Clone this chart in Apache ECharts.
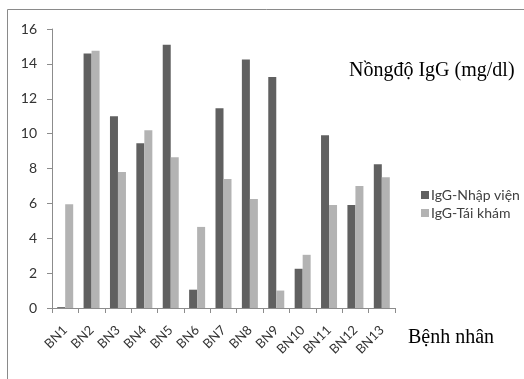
<!DOCTYPE html>
<html>
<head>
<meta charset="utf-8">
<script src="https://cdn.jsdelivr.net/npm/echarts@6/dist/echarts.min.js"></script>
<style>
  html, body { margin: 0; padding: 0; background: #fff; }
  #chart { width: 524px; height: 379px; }
</style>
</head>
<body>
<div id="chart"></div>
<script>
// Patients and IgG concentrations (mg/dl) at admission and at follow-up
const patients = ['BN1', 'BN2', 'BN3', 'BN4', 'BN5', 'BN6', 'BN7', 'BN8', 'BN9', 'BN10', 'BN11', 'BN12', 'BN13'];
const iggAdmission = [0.05, 14.6, 11.0, 9.45, 15.1, 1.05, 11.45, 14.25, 13.25, 2.25, 9.9, 5.9, 8.25];
const iggFollowUp = [5.95, 14.75, 7.8, 10.2, 8.65, 4.65, 7.4, 6.25, 1.0, 3.05, 5.9, 7.0, 7.5];
const seriesNames = ['IgG-Nhập viện', 'IgG-Tái khám'];
const yTicks = { min: 0, max: 16, interval: 2 };

const chart = echarts.init(document.getElementById('chart'), null, { renderer: 'canvas' });

const labelFont = 'Lato, "Open Sans", sans-serif';
const serifFont = '"Liberation Serif", "Times New Roman", serif';
const axisColor = '#8c8c8c';

chart.setOption({
  animation: false,
  backgroundColor: '#fff',
  graphic: [
    {
      type: 'rect',
      shape: { x: 7.5, y: 9.5, width: 540, height: 400 },
      style: { fill: 'none', stroke: '#8a8a8a', lineWidth: 1 },
      silent: true
    },
    {
      type: 'text',
      left: 349, top: 61,
      style: { text: 'Nồngđộ IgG (mg/dl)', font: '20px ' + serifFont, fill: '#000' }
    },
    {
      type: 'text',
      left: 408, top: 328,
      style: { text: 'Bệnh nhân', font: '20px ' + serifFont, fill: '#000' }
    }
  ],
  legend: {
    orient: 'vertical',
    left: 416,
    top: 183,
    itemWidth: 8,
    itemHeight: 8,
    itemGap: 4,
    icon: 'rect',
    data: seriesNames,
    textStyle: { fontFamily: labelFont, fontSize: 14, color: '#404040', padding: [0, 0, 0, -3] }
  },
  grid: { left: 52, right: 129, top: 29, bottom: 71, containLabel: false },
  xAxis: {
    type: 'category',
    data: patients,
    axisLine: { lineStyle: { color: axisColor, width: 1 } },
    axisTick: { show: true, length: 5, lineStyle: { color: axisColor } },
    axisLabel: { rotate: 45, margin: 20, interval: 0, fontFamily: labelFont, fontSize: 13, color: '#333' },
    splitLine: { show: false }
  },
  yAxis: {
    type: 'value',
    min: yTicks.min,
    max: yTicks.max,
    interval: yTicks.interval,
    axisLine: { show: true, lineStyle: { color: axisColor, width: 1 } },
    axisTick: { show: true, length: 5, lineStyle: { color: axisColor } },
    axisLabel: { margin: 15, fontFamily: labelFont, fontSize: 14, color: '#333' },
    splitLine: { show: false }
  },
  series: [
    {
      name: seriesNames[0],
      type: 'bar',
      data: iggAdmission,
      barWidth: 8,
      barGap: '0%',
      itemStyle: { color: '#606060' }
    },
    {
      name: seriesNames[1],
      type: 'bar',
      data: iggFollowUp,
      barWidth: 8,
      barGap: '0%',
      itemStyle: { color: '#b3b3b3' }
    }
  ]
});
</script>
</body>
</html>
